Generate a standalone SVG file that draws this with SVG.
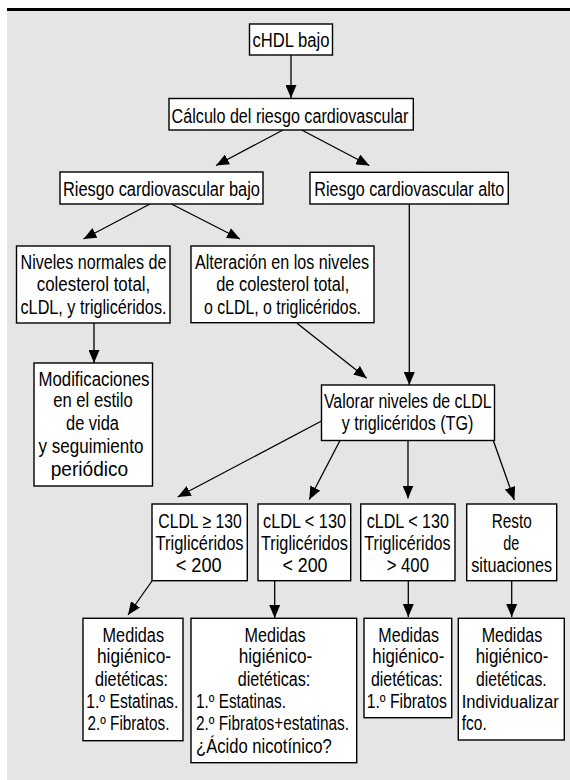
<svg xmlns="http://www.w3.org/2000/svg" width="570" height="780" viewBox="0 0 570 780">
<style>
.bg{fill:#e5e5e5}
.box{fill:#fff;stroke:#000;stroke-width:1.4}
.ln{stroke:#000;stroke-width:1.3;fill:none;marker-end:url(#ah)}
text{font-family:"Liberation Sans",Arial,sans-serif;font-size:19.5px;fill:#000}
.m{text-anchor:middle}
</style>
<defs>
<marker id="ah" markerUnits="userSpaceOnUse" markerWidth="13" markerHeight="11" refX="13" refY="5.5" orient="auto">
<path d="M0,0 L13,5.5 L0,11 z" fill="#000"/>
</marker>
</defs>
<rect class="bg" x="7" y="10" width="563" height="770"/>
<rect x="7" y="8" width="563" height="3" fill="#000"/>

<g id="connectors">
<line class="ln" x1="291" y1="55" x2="291" y2="98"/>
<line class="ln" x1="283" y1="130" x2="216" y2="165.5"/>
<line class="ln" x1="301.7" y1="130" x2="369.3" y2="165.5"/>
<line class="ln" x1="150" y1="204" x2="83.5" y2="239"/>
<line class="ln" x1="171.4" y1="204" x2="240" y2="239"/>
<line class="ln" x1="94" y1="323" x2="94" y2="363"/>
<line class="ln" x1="296.7" y1="323" x2="366.7" y2="378.3"/>
<line class="ln" x1="409.3" y1="204" x2="409.3" y2="385"/>
<line class="ln" x1="321.5" y1="421" x2="177.7" y2="497"/>
<line class="ln" x1="340" y1="440.5" x2="309.3" y2="499.5"/>
<line class="ln" x1="408" y1="440.5" x2="408" y2="498.5"/>
<line class="ln" x1="493.3" y1="440.5" x2="514.3" y2="500"/>
<line class="ln" x1="152" y1="581" x2="128" y2="615"/>
<line class="ln" x1="274.7" y1="581" x2="274.7" y2="618"/>
<line class="ln" x1="408.3" y1="581" x2="408.3" y2="617"/>
<line class="ln" x1="511.7" y1="581" x2="511.7" y2="617"/>
</g>

<g id="n1">
<rect class="box" x="249.5" y="24" width="83" height="31"/>
<text class="m" x="291" y="47" textLength="77" lengthAdjust="spacingAndGlyphs">cHDL bajo</text>
</g>
<g id="n2">
<rect class="box" x="169" y="98.5" width="244.3" height="31.5"/>
<text class="m" x="290" y="122.5" textLength="236.8" lengthAdjust="spacingAndGlyphs">Cálculo del riesgo cardiovascular</text>
</g>
<g id="n3">
<rect class="box" x="60" y="172" width="203" height="32"/>
<text class="m" x="161.5" y="195.5" textLength="197" lengthAdjust="spacingAndGlyphs">Riesgo cardiovascular bajo</text>
</g>
<g id="n4">
<rect class="box" x="310" y="172.3" width="198.3" height="31.7"/>
<text class="m" x="409.3" y="195.5" textLength="190" lengthAdjust="spacingAndGlyphs">Riesgo cardiovascular alto</text>
</g>
<g id="n5">
<rect class="box" x="16.5" y="246" width="153.5" height="77"/>
<text class="m" x="93.5" y="268.5" textLength="146" lengthAdjust="spacingAndGlyphs">Niveles normales de</text>
<text class="m" x="93.5" y="291" textLength="113.5" lengthAdjust="spacingAndGlyphs">colesterol total,</text>
<text class="m" x="93.5" y="313.5" textLength="146" lengthAdjust="spacingAndGlyphs">cLDL, y triglicéridos.</text>
</g>
<g id="n6">
<rect class="box" x="191" y="246" width="183" height="76.7"/>
<text class="m" x="282" y="268.5" textLength="174" lengthAdjust="spacingAndGlyphs">Alteración en los niveles</text>
<text class="m" x="282.7" y="291" textLength="133" lengthAdjust="spacingAndGlyphs">de colesterol total,</text>
<text class="m" x="282.5" y="313.5" textLength="157" lengthAdjust="spacingAndGlyphs">o cLDL, o triglicéridos.</text>
</g>
<g id="n7">
<rect class="box" x="34" y="363" width="118.5" height="123"/>
<text class="m" x="94" y="385.5" textLength="111" lengthAdjust="spacingAndGlyphs">Modificaciones</text>
<text class="m" x="93" y="407" textLength="79.5" lengthAdjust="spacingAndGlyphs">en el estilo</text>
<text class="m" x="92.5" y="430" textLength="53" lengthAdjust="spacingAndGlyphs">de vida</text>
<text class="m" x="91" y="452.5" textLength="105" lengthAdjust="spacingAndGlyphs">y seguimiento</text>
<text class="m" x="89.5" y="475.5" textLength="77.5" lengthAdjust="spacingAndGlyphs">periódico</text>
</g>
<g id="n8">
<rect class="box" x="321.5" y="385" width="173" height="55.5"/>
<text class="m" x="407.8" y="408.3" textLength="167.7" lengthAdjust="spacingAndGlyphs">Valorar niveles de cLDL</text>
<text class="m" x="407.5" y="430.3" textLength="131.6" lengthAdjust="spacingAndGlyphs">y triglicéridos (TG)</text>
</g>
<g id="n9">
<rect class="box" x="152" y="504" width="95.3" height="76.7"/>
<text class="m" x="200" y="527.5" textLength="83.5" lengthAdjust="spacingAndGlyphs">CLDL ≥ 130</text>
<text class="m" x="199.6" y="549.8" textLength="88" lengthAdjust="spacingAndGlyphs">Triglicéridos</text>
<text class="m" x="198.7" y="572" textLength="46" lengthAdjust="spacingAndGlyphs">&lt; 200</text>
</g>
<g id="n10">
<rect class="box" x="258" y="504" width="92.7" height="76.7"/>
<text class="m" x="304.5" y="527.5" textLength="83" lengthAdjust="spacingAndGlyphs">cLDL &lt; 130</text>
<text class="m" x="304.5" y="549.8" textLength="87" lengthAdjust="spacingAndGlyphs">Triglicéridos</text>
<text class="m" x="305" y="572" textLength="45" lengthAdjust="spacingAndGlyphs">&lt; 200</text>
</g>
<g id="n11">
<rect class="box" x="360.7" y="504" width="94.3" height="76.7"/>
<text class="m" x="407.8" y="527.5" textLength="82.3" lengthAdjust="spacingAndGlyphs">cLDL &lt; 130</text>
<text class="m" x="407.5" y="549.8" textLength="86.3" lengthAdjust="spacingAndGlyphs">Triglicéridos</text>
<text class="m" x="407.8" y="572" textLength="42.3" lengthAdjust="spacingAndGlyphs">&gt; 400</text>
</g>
<g id="n12">
<rect class="box" x="466.7" y="504" width="90" height="76.7"/>
<text class="m" x="511.7" y="527.5" textLength="40" lengthAdjust="spacingAndGlyphs">Resto</text>
<text class="m" x="511.3" y="549.8" textLength="16" lengthAdjust="spacingAndGlyphs">de</text>
<text class="m" x="511.7" y="572" textLength="81" lengthAdjust="spacingAndGlyphs">situaciones</text>
</g>
<g id="n13">
<rect class="box" x="83" y="618.3" width="100" height="122.4"/>
<text class="m" x="133.3" y="641.5" textLength="61.5" lengthAdjust="spacingAndGlyphs">Medidas</text>
<text class="m" x="134" y="663.3" textLength="74" lengthAdjust="spacingAndGlyphs">higiénico-</text>
<text class="m" x="131.5" y="685.5" textLength="73" lengthAdjust="spacingAndGlyphs">dietéticas:</text>
<text x="86.3" y="707.7" textLength="92" lengthAdjust="spacingAndGlyphs">1.º Estatinas.</text>
<text x="87.5" y="730" textLength="82" lengthAdjust="spacingAndGlyphs">2.º Fibratos.</text>
</g>
<g id="n14">
<rect class="box" x="191" y="618.3" width="165.7" height="144.4"/>
<text class="m" x="275" y="641.5" textLength="61" lengthAdjust="spacingAndGlyphs">Medidas</text>
<text class="m" x="275.5" y="663.3" textLength="73.5" lengthAdjust="spacingAndGlyphs">higiénico-</text>
<text class="m" x="274" y="685.5" textLength="72.6" lengthAdjust="spacingAndGlyphs">dietéticas:</text>
<text x="196" y="707.7" textLength="90" lengthAdjust="spacingAndGlyphs">1.º Estatinas.</text>
<text x="196" y="730" textLength="153" lengthAdjust="spacingAndGlyphs">2.º Fibratos+estatinas.</text>
<text x="196" y="752.5" textLength="135.7" lengthAdjust="spacingAndGlyphs">¿Ácido nicotínico?</text>
</g>
<g id="n15">
<rect class="box" x="364" y="618.3" width="87.7" height="99.4"/>
<text class="m" x="408.7" y="641.5" textLength="60.7" lengthAdjust="spacingAndGlyphs">Medidas</text>
<text class="m" x="408.3" y="663.3" textLength="72" lengthAdjust="spacingAndGlyphs">higiénico-</text>
<text class="m" x="406.8" y="685.5" textLength="71.7" lengthAdjust="spacingAndGlyphs">dietéticas:</text>
<text class="m" x="406.8" y="707.7" textLength="80.3" lengthAdjust="spacingAndGlyphs">1.º Fibratos</text>
</g>
<g id="n16">
<rect class="box" x="458.3" y="618.3" width="106" height="121.7"/>
<text class="m" x="512" y="641.5" textLength="60.6" lengthAdjust="spacingAndGlyphs">Medidas</text>
<text class="m" x="512" y="663.3" textLength="72.6" lengthAdjust="spacingAndGlyphs">higiénico-</text>
<text class="m" x="511.3" y="685.5" textLength="70.7" lengthAdjust="spacingAndGlyphs">dietéticas.</text>
<text x="461.7" y="707.7" style="font-size:17.5px" textLength="97" lengthAdjust="spacingAndGlyphs">Individualizar</text>
<text x="461.7" y="730" textLength="25" lengthAdjust="spacingAndGlyphs">fco.</text>
</g>
</svg>
